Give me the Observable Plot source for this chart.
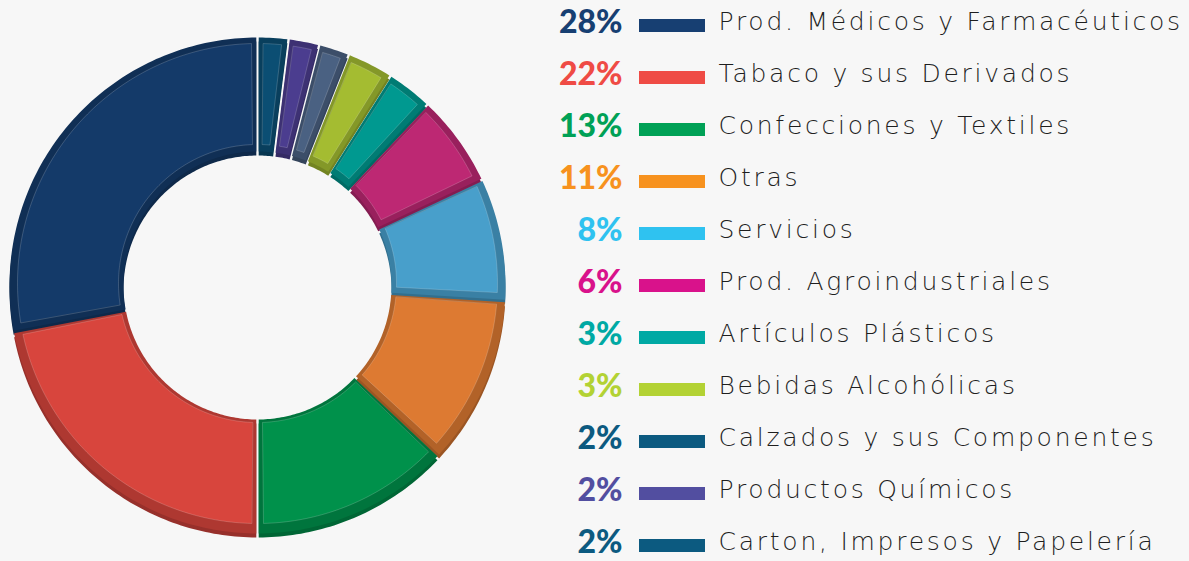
<!DOCTYPE html>
<html>
<head>
<meta charset="utf-8">
<script src="https://cdn.jsdelivr.net/npm/d3@7"></script>
<script src="https://cdn.jsdelivr.net/npm/@observablehq/plot@0.6"></script>
<style>
  html, body { margin: 0; padding: 0; background: #f7f7f7; }
  #wrap { display: flex; flex-direction: row; width: 1189px; height: 561px; overflow: hidden; }
  #wrap svg { background: #f7f7f7; display: block; }
  .lbl text { letter-spacing: 2.75px; }
</style>
</head>
<body>
<div id="wrap"></div>
<script>
// ---- data (legend order; the donut is drawn counter-clockwise from 12 o'clock in this order)
const categories = [
  "Prod. Médicos y Farmacéuticos",
  "Tabaco y sus Derivados",
  "Confecciones y Textiles",
  "Otras",
  "Servicios",
  "Prod. Agroindustriales",
  "Artículos Plásticos",
  "Bebidas Alcohólicas",
  "Calzados y sus Componentes",
  "Productos Químicos",
  "Carton, Impresos y Papelería"
];
const values = [28, 22, 13, 11, 8, 6, 3, 3, 2, 2, 2];
const pctLabels = ["28%", "22%", "13%", "11%", "8%", "6%", "3%", "3%", "2%", "2%", "2%"];
const sliceColors = ["#143a69", "#d8453d", "#00914b", "#dd7a32", "#489fcb", "#bd2873", "#009990", "#a4bc31", "#4a6182", "#4b3d8f", "#0b4e73"];
const legendColors = ["#173f72", "#ef4b45", "#00a156", "#f7921e", "#2fc2f0", "#d9128b", "#00a9a4", "#b3d234", "#0c5a80", "#524ea0", "#0c5a80"];

// ---- geometry helpers (layout, in pixel-sized data units)
const R = 248, r = 134;
const total = d3.sum(values);

function arcPoints(key, a0, a1, ro, ri, padO, padI, fill) {
  const lo = Math.min(a0, a1), hi = Math.max(a0, a1);
  const pts = [];
  const o0 = lo + padO / ro, o1 = hi - padO / ro;
  const i0 = lo + padI / ri, i1 = hi - padI / ri;
  const n = Math.max(6, Math.ceil((hi - lo) * 180 / Math.PI));
  for (let k = 0; k <= n; k++) {
    const a = o0 + (o1 - o0) * k / n;
    pts.push({key, x: ro * Math.sin(a), y: ro * Math.cos(a), fill});
  }
  for (let k = n; k >= 0; k--) {
    const a = i0 + (i1 - i0) * k / n;
    pts.push({key, x: ri * Math.sin(a), y: ri * Math.cos(a), fill});
  }
  return pts;
}

let cum = 0;
const slices = categories.map((c, i) => {
  const a0 = -cum / total * 2 * Math.PI;
  cum += values[i];
  const a1 = -cum / total * 2 * Math.PI;
  return {c, a0, a1, color: sliceColors[i]};
});

const shadowPts = slices.flatMap(s => arcPoints(s.c, s.a0, s.a1, R, r, 1.2, 1.2, d3.color(s.color).darker(1.0).formatHex()));
const basePts = slices.flatMap(s => arcPoints(s.c, s.a0, s.a1, R, r, 1.2, 1.2, d3.color(s.color).darker(0.6).formatHex()));
const facePts = slices.flatMap(s => arcPoints(s.c, s.a0, s.a1, R - 8, r + 5, 6, 5, s.color));

const donut = Plot.plot({
  width: 540,
  height: 561,
  marginTop: 0, marginBottom: 0, marginLeft: 0, marginRight: 0,
  x: {domain: [-257, 283], axis: null},
  y: {domain: [-277, 284], axis: null},
  color: {type: "identity"},
  marks: [
    Plot.line(shadowPts, {x: "x", y: "y", z: "key", fill: "fill", stroke: "none", curve: "linear-closed", dy: 5}),
    Plot.line(basePts, {x: "x", y: "y", z: "key", fill: "fill", stroke: "none", curve: "linear-closed", dy: 1}),
    Plot.line(facePts, {x: "x", y: "y", z: "key", fill: "fill", stroke: "#ffffff", strokeOpacity: 0.18, strokeWidth: 1, curve: "linear-closed", dy: -1})
  ]
});

const legendRows = categories.map((c, i) => ({category: c, pct: pctLabels[i], color: legendColors[i]}));

const legend = Plot.plot({
  width: 649,
  height: 561,
  marginTop: 24, marginBottom: 15, marginLeft: 0, marginRight: 0,
  y: {type: "point", domain: categories, padding: 0, axis: null},
  color: {type: "identity"},
  marks: [
    Plot.ruleY(legendRows, {y: "category", stroke: "color", strokeWidth: 13, insetLeft: 99, insetRight: 484}),
    Plot.text(legendRows, {y: "category", text: "pct", fill: "color", frameAnchor: "left", dx: 82, textAnchor: "end", fontSize: 32, fontWeight: 900, fontFamily: "Lato", dy: -3}),
    Plot.text(legendRows, {y: "category", text: "category", fill: "#1e1e1e", frameAnchor: "left", dx: 178, textAnchor: "start", fontSize: 25, fontWeight: 300, fontFamily: "DejaVu Sans", dy: -4, className: "lbl"})
  ]
});

const wrap = document.getElementById("wrap");
wrap.appendChild(donut);
wrap.appendChild(legend);
</script>
</body>
</html>
